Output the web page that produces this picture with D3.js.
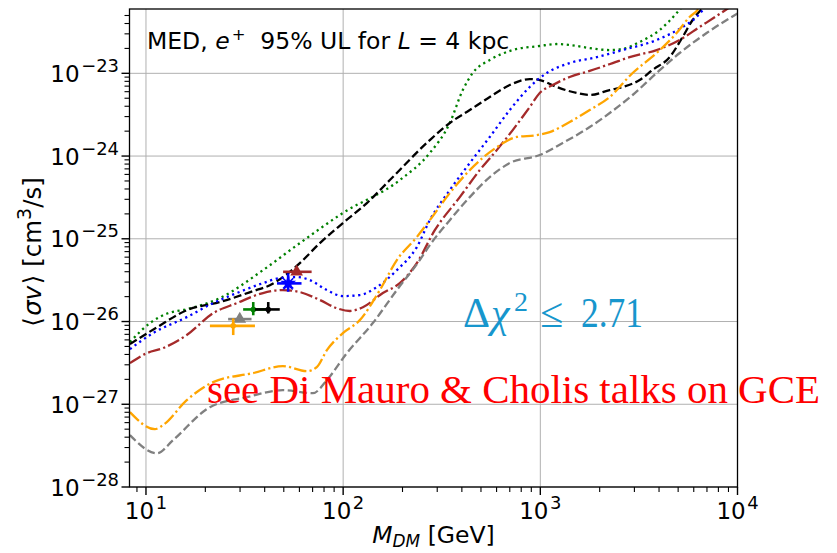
<!DOCTYPE html>
<html><head><meta charset="utf-8">
<script src="https://cdn.jsdelivr.net/npm/d3@7"></script>
<style>body{margin:0;background:#fff} svg{display:block}</style>
</head><body>
<svg id="c" width="837" height="553"></svg>
<script>
// ---- data (M_DM in GeV, <sigma v> in cm^3/s) ----
const greenMass = [8.29, 10.48, 12.93, 16.1, 23.7, 39.2, 60.3, 99.7, 193.8, 275.1, 347.4, 404.3, 454.3, 554.1, 724.5, 993.1, 1211, 1409, 1780, 2248, 2616, 3191, 4029, 4970, 5717];
const greenSigma = [5.64e-27, 9.58e-27, 1.26e-26, 1.41e-26, 1.92e-26, 4.18e-26, 8.87e-26, 2.05e-25, 5.13e-25, 1.09e-24, 2.51e-24, 6.28e-24, 1.01e-23, 1.45e-23, 1.91e-23, 2.14e-23, 2.26e-23, 2.20e-23, 2.02e-23, 1.91e-23, 1.97e-23, 2.39e-23, 3.34e-23, 5.51e-23, 8.37e-23];

const blackMass = [8.29, 11.4, 16.1, 23.7, 34.9, 42.5, 51.8, 60.3, 76.2, 99.7, 131.9, 172.5, 275.1, 347.4, 438.7, 554.1, 699.6, 883.5, 993.1, 1211, 1529, 1780, 2248, 2616, 3191, 3713, 4529, 5269, 5920, 6655, 7540];
const blackSigma = [5.33e-27, 8.55e-27, 1.37e-26, 1.72e-26, 2.33e-26, 2.75e-26, 3.74e-26, 5.08e-26, 8.87e-26, 1.55e-25, 2.70e-25, 5.13e-25, 1.56e-24, 2.51e-24, 3.60e-24, 5.17e-24, 7.22e-24, 8.53e-24, 8.30e-24, 6.83e-24, 5.78e-24, 5.47e-24, 6.28e-24, 6.83e-24, 8.30e-24, 1.10e-23, 1.57e-23, 2.75e-23, 4.41e-23, 6.17e-23, 8.85e-23];

const blueMass = [8.29, 10.85, 16.1, 21.9, 28.9, 39.2, 47.8, 58.3, 67.8, 82.7, 99.7, 121.5, 148.2, 187.2, 236.4, 275.1, 347.4, 438.7, 554.1, 699.6, 883.5, 1078, 1409, 1931, 2616, 3890, 5269, 6203, 6813, 7540];
const blueSigma = [4.64e-27, 7.24e-27, 1.13e-26, 1.67e-26, 2.21e-26, 2.91e-26, 3.35e-26, 3.44e-26, 3.17e-26, 2.40e-26, 2.03e-26, 2.09e-26, 2.61e-26, 4.18e-26, 7.94e-26, 1.68e-25, 3.88e-25, 8.23e-25, 1.70e-24, 3.60e-24, 6.83e-24, 1.01e-23, 1.33e-23, 1.57e-23, 1.91e-23, 2.53e-23, 3.63e-23, 4.80e-23, 6.17e-23, 8.37e-23];

const brownMass = [8.29, 10.1, 12.2, 16.1, 21.9, 28.9, 39.2, 49.5, 60.3, 76.2, 92.9, 108.1, 125.9, 159.0, 193.8, 236.4, 291.6, 390.4, 493.2, 601.3, 724.5, 883.5, 993.1, 1156, 1409, 1780, 2328, 2838, 3890, 5089, 6426, 8404, 10000];
const brownSigma = [3.14e-27, 4.15e-27, 4.77e-27, 6.86e-27, 1.26e-26, 1.67e-26, 2.21e-26, 2.40e-26, 2.27e-26, 1.82e-26, 1.45e-26, 1.34e-26, 1.49e-26, 2.21e-26, 2.91e-26, 5.08e-26, 1.27e-25, 3.19e-25, 6.77e-25, 1.18e-24, 2.06e-24, 3.91e-24, 5.78e-24, 7.22e-24, 9.02e-24, 1.07e-23, 1.33e-23, 1.57e-23, 1.91e-23, 2.53e-23, 3.63e-23, 5.51e-23, 7.3e-23];

const orangeMass = [8.29, 11.1, 12.2, 16.1, 21.9, 34.9, 49.5, 65.5, 73.5, 82.7, 99.7, 121.5, 153.5, 187.2, 236.4, 275.1, 347.4, 438.7, 601.3, 759.2, 958.9, 1116, 1409, 1780, 2248, 2939, 3890, 4913, 5717, 6277, 6813];
const orangeSigma = [8.03e-28, 5.0e-28, 5.60e-28, 1.12e-27, 1.85e-27, 2.38e-27, 2.89e-27, 2.51e-27, 2.81e-27, 4.51e-27, 7.24e-27, 1.04e-26, 2.40e-26, 5.53e-26, 1.05e-25, 1.68e-25, 3.57e-25, 6.77e-25, 1.28e-24, 1.70e-24, 1.79e-24, 1.95e-24, 2.58e-24, 3.60e-24, 5.17e-24, 1.01e-23, 1.76e-23, 3.07e-23, 4.80e-23, 5.83e-23, 8.15e-23];

const greyMass = [8.29, 11.4, 13.7, 21.1, 32.5, 49.5, 70.2, 82.7, 104.4, 141.4, 187.2, 244.7, 275.1, 347.4, 438.7, 554.1, 699.6, 993.1, 1299, 1780, 2248, 2939, 3890, 5089, 6973, 10000];
const greySigma = [4.24e-28, 2.56e-28, 3.68e-28, 9.23e-28, 1.22e-27, 1.48e-27, 1.36e-27, 1.96e-27, 4.15e-27, 9.58e-27, 2.40e-26, 5.53e-26, 8.4e-26, 1.68e-25, 3.19e-25, 5.57e-25, 8.23e-25, 1.03e-24, 1.44e-24, 2.24e-24, 3.31e-24, 5.47e-24, 1.01e-23, 1.76e-23, 3.07e-23, 5.3e-23];

// best-fit points with error bars
const fitColors   = ["#a52a2a", "#0000ff", "#008000", "#000000", "#808080", "#ffa500"];
const fitShapes   = ["triangle", "star", "plus", "plus", "triangle", "plus"];
const fitMass     = [58.1, 52.6, 35.0, 41.7, 29.9, 27.7];
const fitMassLo   = [49.6, 46.2, 31.1, 35.7, 26.1, 21.1];
const fitMassHi   = [69.2, 61.5, 41.7, 47.7, 34.3, 35.7];
const fitSigma    = [3.99e-26, 2.89e-26, 1.40e-26, 1.40e-26, 1.07e-26, 8.87e-27];
const fitSigmaLo  = [null, 2.29e-26, 1.19e-26, 1.25e-26, null, 6.86e-27];
const fitSigmaHi  = [null, 3.82e-26, 1.72e-26, 1.72e-26, null, 1.09e-26];

const xMajorTicks = [10, 100, 1000, 10000];
const xTickExp = ["1", "2", "3", "4"];
const yMajorTicks = [1e-28, 1e-27, 1e-26, 1e-25, 1e-24, 1e-23];
const yTickExp = ["\u221228", "\u221227", "\u221226", "\u221225", "\u221224", "\u221223"];

// ---- layout ----
const L = 129.5, R = 737.5, T = 9, B = 487;
const x = d3.scaleLog().domain([8.25, 1e4]).range([L, R]);
const y = d3.scaleLog().domain([1e-28, 5.99e-23]).range([B, T]);
const svg = d3.select("#c");
const FS = 23.5;
const TFS = 23;       // tick label size
const SUP = 0.78;     // superscript scale
const sans = "'DejaVu Sans', sans-serif";

svg.append("defs").append("clipPath").attr("id", "clip")
  .append("rect").attr("x", L).attr("y", T).attr("width", R - L).attr("height", B - T);

// grid
const grid = svg.append("g").attr("stroke", "#b0b0b0").attr("stroke-width", 1);
xMajorTicks.forEach(v => grid.append("line").attr("x1", x(v)).attr("x2", x(v)).attr("y1", T).attr("y2", B));
yMajorTicks.forEach(v => grid.append("line").attr("y1", y(v)).attr("y2", y(v)).attr("x1", L).attr("x2", R));

// curves
const series = [
  {m: greenMass, s: greenSigma, c: "#008000", dash: "2.2,3.6"},
  {m: blackMass, s: blackSigma, c: "#000000", dash: "8,3.5"},
  {m: blueMass, s: blueSigma, c: "#0000ff", dash: "2.2,3.6"},
  {m: brownMass, s: brownSigma, c: "#a52a2a", dash: "12.5,3.2,2.2,3.2"},
  {m: orangeMass, s: orangeSigma, c: "#ffa500", dash: "12.5,3.2,2.2,3.2"},
  {m: greyMass, s: greySigma, c: "#808080", dash: "8,3.5"}
];
const line = d3.line().x(d => x(d[0])).y(d => y(d[1])).curve(d3.curveMonotoneX);
const cg = svg.append("g").attr("clip-path", "url(#clip)");
series.forEach(sr => {
  cg.append("path").datum(d3.zip(sr.m, sr.s)).attr("d", line)
    .attr("fill", "none").attr("stroke", sr.c).attr("stroke-width", 2.3)
    .attr("stroke-dasharray", sr.dash);
});

// best-fit markers
const mg = svg.append("g");
fitMass.forEach((m, i) => {
  const c = fitColors[i], cx = x(m), cy = y(fitSigma[i]);
  mg.append("line").attr("x1", x(fitMassLo[i])).attr("x2", x(fitMassHi[i]))
    .attr("y1", cy).attr("y2", cy).attr("stroke", c).attr("stroke-width", 2.6);
  if (fitSigmaLo[i] !== null) {
    mg.append("line").attr("x1", cx).attr("x2", cx)
      .attr("y1", y(fitSigmaLo[i])).attr("y2", y(fitSigmaHi[i])).attr("stroke", c).attr("stroke-width", 2.6);
  }
  if (fitShapes[i] === "triangle") {
    mg.append("path").attr("d", d3.symbol(d3.symbolTriangle, 70)())
      .attr("transform", `translate(${cx},${cy})`).attr("fill", c);
  } else if (fitShapes[i] === "star") {
    mg.append("path").attr("d", d3.symbol(d3.symbolStar, 80)())
      .attr("transform", `translate(${cx},${cy})`).attr("fill", c);
    mg.append("path").attr("d", d3.symbol(d3.symbolTimes, 70)())
      .attr("transform", `translate(${cx},${cy})`).attr("fill", "none").attr("stroke", c).attr("stroke-width", 1.6);
  } else {
    mg.append("circle").attr("cx", cx).attr("cy", cy).attr("r", 2.8).attr("fill", c);
  }
});

// axes frame
const ax = svg.append("g").attr("stroke", "#000").attr("stroke-width", 1.3);
ax.append("rect").attr("x", L).attr("y", T).attr("width", R - L).attr("height", B - T).attr("fill", "none");

// x ticks
for (let e = 0; e <= 4; e++) {
  for (let d = 1; d <= 9; d++) {
    const v = d * Math.pow(10, e);
    if (v < 8.25 || v > 1e4) continue;
    const major = d === 1;
    ax.append("line").attr("x1", x(v)).attr("x2", x(v)).attr("y1", B).attr("y2", B + (major ? 8 : 5))
      .attr("stroke-width", major ? 1.4 : 1.1);
  }
}
// y ticks
for (let e = -28; e <= -23; e++) {
  for (let d = 1; d <= 9; d++) {
    const v = d * Math.pow(10, e);
    if (v < 1e-28 || v > 5.99e-23) continue;
    const major = d === 1;
    ax.append("line").attr("y1", y(v)).attr("y2", y(v)).attr("x1", L).attr("x2", L - (major ? 8 : 5))
      .attr("stroke-width", major ? 1.4 : 1.1);
  }
}

// tick labels
xMajorTicks.forEach((v, i) => {
  const t = svg.append("text").attr("x", x(v)).attr("y", 519).attr("text-anchor", "middle")
    .attr("font-family", sans).attr("font-size", TFS).attr("fill", "#000");
  t.append("tspan").text("10");
  t.append("tspan").attr("dx", 1.5).attr("dy", -10).attr("font-size", TFS * SUP).text(xTickExp[i]);
});
yMajorTicks.forEach((v, i) => {
  const t = svg.append("text").attr("x", 119).attr("y", y(v) + 8.5).attr("text-anchor", "end")
    .attr("font-family", sans).attr("font-size", TFS).attr("fill", "#000");
  t.append("tspan").text("10");
  t.append("tspan").attr("dx", 1.5).attr("dy", -10).attr("font-size", TFS * SUP).text(yTickExp[i]);
});

// axis labels
const xl = svg.append("text").attr("x", (L + R) / 2).attr("y", 543).attr("text-anchor", "middle")
  .attr("font-family", sans).attr("font-size", FS);
xl.append("tspan").attr("font-style", "italic").text("M");
xl.append("tspan").attr("font-style", "italic").attr("font-size", FS * 0.72).attr("dy", 4).text("DM");
xl.append("tspan").attr("dy", -4).text(" [GeV]");

const YFS = 24.5;
const yl = svg.append("text").attr("transform", `translate(41,${(T + B) / 2 + 4}) rotate(-90)`)
  .attr("text-anchor", "middle").attr("font-family", sans).attr("font-size", YFS);
yl.append("tspan").text("\u27e8");
yl.append("tspan").attr("dx", 1.5).attr("font-style", "italic").text("\u03c3v");
yl.append("tspan").attr("dx", 1.5).text("\u27e9 [cm");
yl.append("tspan").attr("font-size", YFS * SUP).attr("dy", -10).text("3");
yl.append("tspan").attr("dy", 10).text("/s]");

// title annotation
const tt = svg.append("text").attr("x", 147).attr("y", 49).attr("font-family", sans).attr("font-size", FS)
  .attr("xml:space", "preserve");
tt.append("tspan").text("MED, ");
tt.append("tspan").attr("font-style", "italic").text("e");
tt.append("tspan").attr("dx", 2).attr("font-size", FS * 0.7).attr("dy", -9).text("+");
tt.append("tspan").attr("dy", 9).text("  95% UL for ");
tt.append("tspan").attr("font-style", "italic").text("L");
tt.append("tspan").text(" = 4 kpc");

// delta chi^2 annotation
const serif = "'Liberation Serif', 'Times New Roman', serif";
const dc = svg.append("text").attr("y", 327).attr("font-family", serif).attr("font-size", 42)
  .attr("fill", "#1796cd");
dc.append("tspan").attr("x", 463).text("\u0394");
dc.append("tspan").attr("x", 491).attr("font-style", "italic").text("\u03c7");
dc.append("tspan").attr("x", 514).attr("font-size", 28).attr("dy", -16).text("2");
dc.append("tspan").attr("x", 540).attr("dy", 16).text("\u2264");
dc.append("tspan").attr("x", 581).attr("textLength", 62).attr("lengthAdjust", "spacingAndGlyphs").text("2.71");

svg.append("text").attr("x", 207).attr("y", 403).attr("font-family", serif).attr("font-size", 41)
  .attr("fill", "#ff0000").attr("textLength", 613).attr("lengthAdjust", "spacingAndGlyphs")
  .text("see Di Mauro & Cholis talks on GCE");
</script>
</body></html>
